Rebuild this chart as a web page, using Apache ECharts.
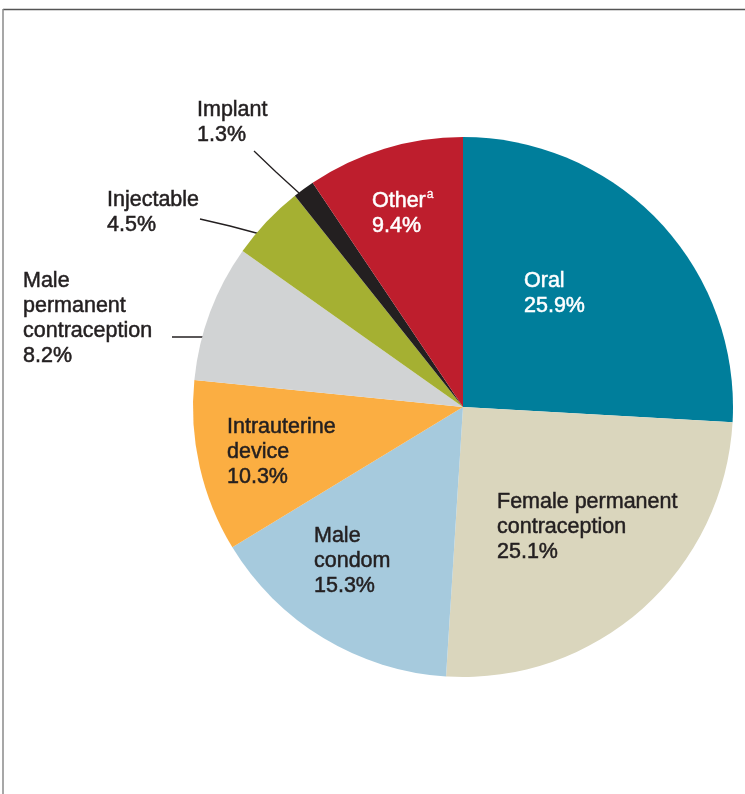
<!DOCTYPE html>
<html>
<head>
<meta charset="utf-8">
<script src="https://cdn.jsdelivr.net/npm/echarts@6/dist/echarts.min.js"></script>
<style>
html,body{margin:0;padding:0;background:#fff;}
#chart{width:745px;height:794px;}
</style>
</head>
<body>
<div id="chart"></div>
<script>
// ---- data ----
const categories = ['Oral', 'Female permanent\ncontraception', 'Male\ncondom', 'Intrauterine\ndevice', 'Male\npermanent\ncontraception', 'Injectable', 'Implant', 'Other'];
const values = [25.9, 25.1, 15.3, 10.3, 8.2, 4.5, 1.3, 9.4];
const colors = ['#007e9b', '#dad6bd', '#a6cadd', '#fbae42', '#d1d3d4', '#a5b032', '#231f20', '#be1e2d'];
const labelColors = ['#ffffff', '#231f20', '#231f20', '#231f20', '#231f20', '#231f20', '#231f20', '#ffffff'];
const footnoteMark = 'a';

// label placement (layout only)
const labelPos = [
  [524, 269], [497, 490], [314, 524], [227, 415],
  [23, 269], [107, 188], [197, 98], [372, 189]
];
const leaderLines = {
  4: [[172, 337], [192, 337], [213, 337]],
  5: [[200, 219], [230, 226], [260, 234]],
  6: [[254, 151], [276, 172], [299, 193]]
};

const chart = echarts.init(document.getElementById('chart'), null, {renderer: 'canvas'});

const FONT = 'Liberation Sans, Arial, sans-serif';
const data = categories.map((c, i) => {
  const outside = leaderLines[i] !== undefined;
  const isOther = i === categories.length - 1;
  const col = labelColors[i];
  return {
    name: c,
    value: values[i],
    itemStyle: {color: colors[i]},
    label: {
      position: outside ? 'outside' : 'inside',
      color: col,
      formatter: isOther ? ('{t|' + c + '}{sup|' + footnoteMark + '}\n{t|{c}%}') : '{t|{b}\n{c}%}',
      rich: {
        t: {fontSize: 21.5, lineHeight: 25, color: col, fontFamily: FONT, textBorderColor: col, textBorderWidth: 0.5},
        sup: {fontSize: 12, lineHeight: 25, verticalAlign: 'top', color: col, fontFamily: FONT, padding: [0, 0, 0, 1], textBorderColor: col, textBorderWidth: 0.3}
      }
    },
    labelLine: {show: outside, lineStyle: {color: '#231f20', width: 1.3}}
  };
});

chart.setOption({
  backgroundColor: '#ffffff',
  animation: false,
  graphic: [
    {type: 'line', shape: {x1: 3, y1: 9.5, x2: 745, y2: 9.5}, style: {stroke: '#555555', lineWidth: 1.3}},
    {type: 'line', shape: {x1: 3, y1: 9, x2: 3, y2: 794}, style: {stroke: '#8a8a8a', lineWidth: 1.5}}
  ],
  series: [{
    type: 'pie',
    center: [463, 407],
    radius: [0, 270],
    startAngle: 90,
    clockwise: true,
    avoidLabelOverlap: false,
    label: {
      show: true,
      fontSize: 21.5,
      lineHeight: 25,
      fontFamily: FONT,
      align: 'left'
    },
    emphasis: {disabled: true},
    labelLayout: function (params) {
      const i = params.dataIndex;
      const o = {x: labelPos[i][0], y: labelPos[i][1], align: 'left', verticalAlign: 'top'};
      if (leaderLines[i]) o.labelLinePoints = leaderLines[i];
      return o;
    },
    data: data
  }]
});
</script>
</body>
</html>
